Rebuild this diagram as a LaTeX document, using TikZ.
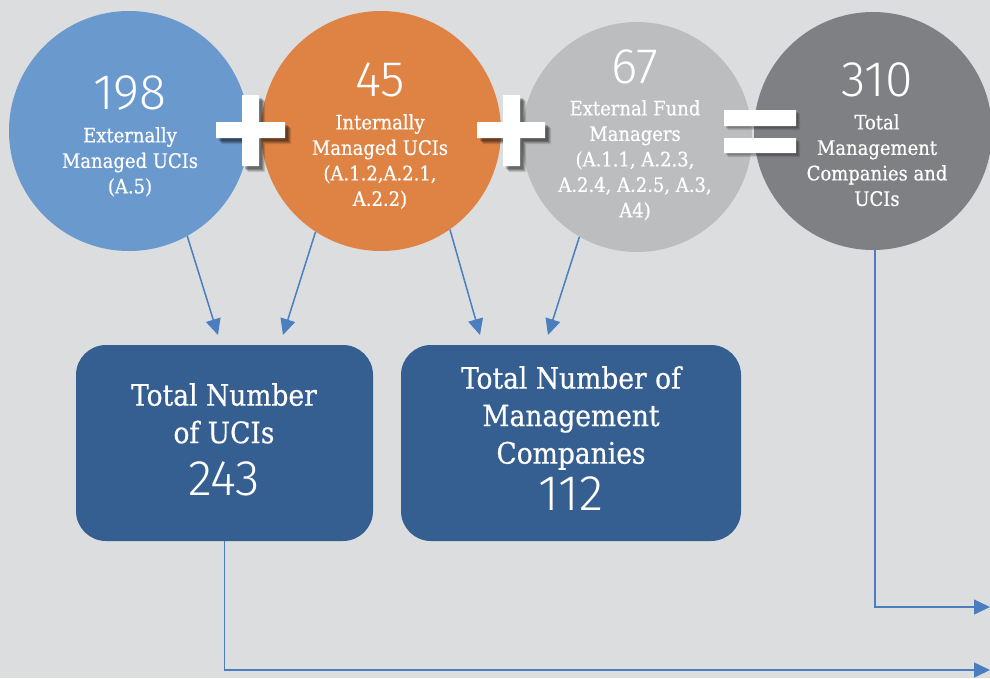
\documentclass[tikz,border=0pt]{standalone}
\usepackage{fontspec}
\setmainfont{DejaVu Serif Condensed}[BoldFont=DejaVu Serif Condensed,BoldFeatures={FakeBold=0.6}]
\newfontfamily\numfont{Fira Sans Light}
\usetikzlibrary{arrows.meta,calc}
\definecolor{bg}{HTML}{DCDDDF}
\definecolor{cblue}{HTML}{6A99CE}
\definecolor{corange}{HTML}{DF8345}
\definecolor{clgrey}{HTML}{BCBDBF}
\definecolor{cdgrey}{HTML}{7F8083}
\definecolor{cbox}{HTML}{365F91}
\definecolor{carrow}{HTML}{4A7EBF}
\tikzset{
  disc/.style={circle,inner sep=0pt,minimum size=#1,draw=none},
  num/.style={text=white,font=\numfont\fontsize{50}{50}\selectfont,inner sep=0pt},
  clabel/.style={text=white,align=center,font=\bfseries\fontsize{20}{25.5}\selectfont,inner sep=0pt},
  boxlabel/.style={text=white,align=center,font=\bfseries\fontsize{29.5}{37.5}\selectfont,inner sep=0pt},
  bignum/.style={text=white,font=\numfont\fontsize{50}{50}\selectfont,inner sep=0pt},
  totbox/.style={fill=cbox,rounded corners=30pt,minimum width=297pt,minimum height=196pt,inner sep=0pt},
  arr/.style={draw=carrow,line width=1.5pt,-{Triangle[length=16pt,width=15pt]}},
  sym/.style={fill=white},
  symshadow/.style={fill=black,opacity=#1}
}
\begin{document}
\begin{tikzpicture}[x=1pt,y=-1pt]
\useasboundingbox (0,0) rectangle (990,678);
\fill[bg] (0,0) rectangle (990,678);

% circles
\node[disc=240pt,fill=cblue] (blue) at (129,131) {};
\node[disc=240pt,fill=corange] (orange) at (381,131) {};
\node[disc=230pt,fill=clgrey] (lgrey) at (637,137) {};
\node[disc=238pt,fill=cdgrey] (dgrey) at (873,131) {};

% plus 1 shadow and shape
\foreach \o/\a in {6/0.12,5/0.15,4/0.2,3/0.2}{
  \fill[symshadow=\a,shift={(\o,\o)}] (242,95) rectangle (259,166) (216,122) rectangle (285,138);
}
\fill[sym] (242,95) rectangle (259,166) (216,122) rectangle (285,138);
% plus 2
\foreach \o/\a in {6/0.12,5/0.15,4/0.2,3/0.2}{
  \fill[symshadow=\a,shift={(\o,\o)}] (503,95) rectangle (520,166) (477,122) rectangle (545,138);
}
\fill[sym] (503,95) rectangle (520,166) (477,122) rectangle (545,138);
% equals
\foreach \o/\a in {4/0.1,3/0.12,2/0.15}{
  \fill[symshadow=\a,shift={(\o,\o)}] (724,110) rectangle (796,126) (724,138) rectangle (796,153);
}
\fill[sym] (724,110) rectangle (796,126) (724,138) rectangle (796,153);

% circle texts
\node[num] (n198) at (130,93.5) {198};
\node[clabel,anchor=north] (l198) at (130,127) {Externally\\Managed UCIs\\(A.5)};
\node[num] (n45) at (380,80) {45};
\node[clabel,anchor=north] (l45) at (380,114) {Internally\\Managed UCIs\\(A.1.2,A.2.1,\\A.2.2)};
\node[num] (n67) at (635,66.5) {67};
\node[clabel,anchor=north] (l67) at (635,100) {External Fund\\Managers\\(A.1.1, A.2.3,\\A.2.4, A.2.5, A.3,\\A4)};
\node[num] (n310) at (877,80) {310};
\node[clabel,anchor=north] (l310) at (877,114) {Total\\Management\\Companies and\\UCIs};

% boxes
\node[totbox] (box1) at (224.5,443) {};
\node[totbox,minimum width=340pt] (box2) at (571,443) {};
\node[boxlabel,anchor=north] (b1l) at (224,383) {Total Number\\of UCIs};
\node[bignum] (b1n) at (224,478.5) {243};
\node[boxlabel,anchor=north] (b2l) at (571,366) {Total Number of\\Management\\Companies};
\node[bignum] (b2n) at (571,493.5) {112};

% arrow targets
\coordinate (t1) at (218,335);
\coordinate (t2) at (283,335);
\coordinate (t3) at (480,335);
\coordinate (t4) at (548,335);
\coordinate (e1) at (990,607);
\coordinate (e2) at (990,670);

\draw[arr] (blue.-61) -- (t1);
\draw[arr] (orange.-123) -- (t2);
\draw[arr] (orange.-55) -- (t3);
\draw[arr] (lgrey.-120) -- (t4);
\draw[arr] (dgrey.-89) |- (e1);
\draw[arr] (box1.south) |- (e2);
\end{tikzpicture}
\end{document}
